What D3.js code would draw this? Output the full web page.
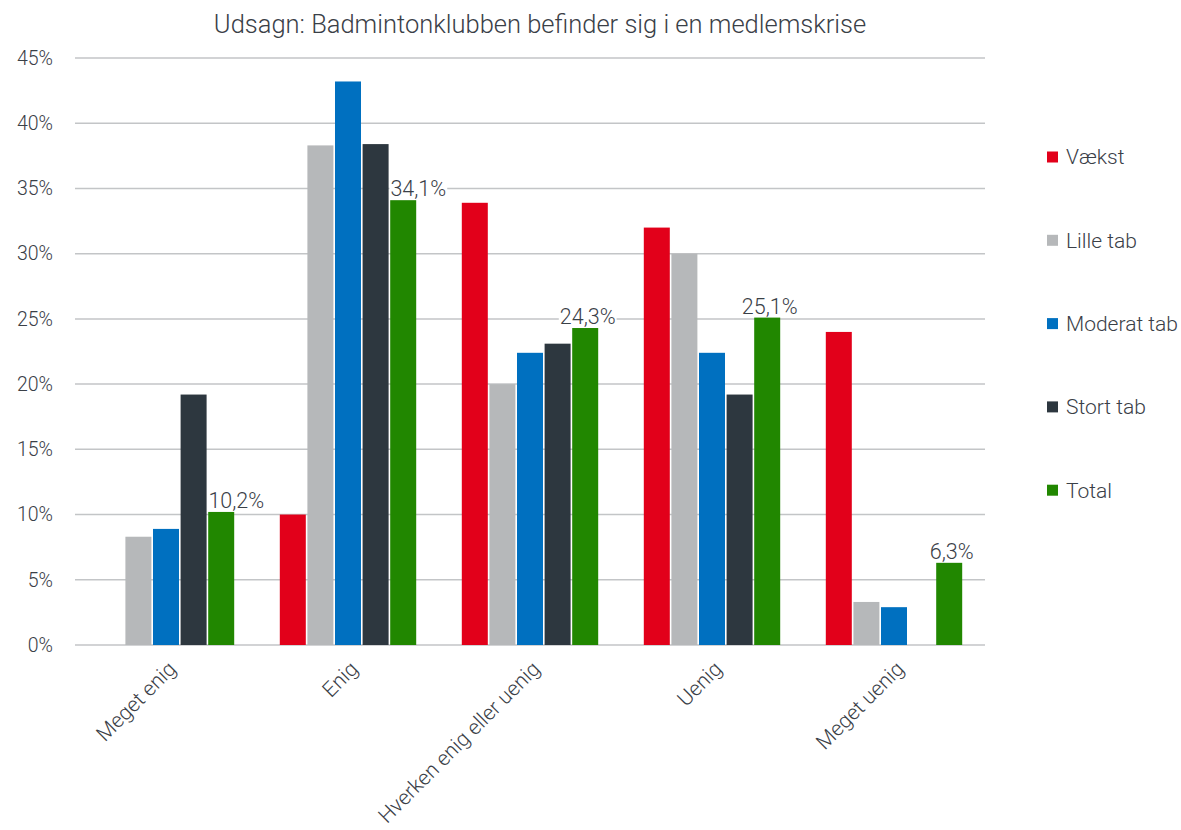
<!DOCTYPE html>
<html>
<head>
<meta charset="utf-8">
<script src="https://cdn.jsdelivr.net/npm/d3@7"></script>
<style>
  body { margin: 0; background: #fff; }
  text { font-family: Roboto, "Noto Sans", sans-serif; font-weight: 300; fill: #3a4047; }
</style>
</head>
<body>
<svg id="chart" width="1181" height="830"></svg>
<script>
"use strict";

// data (percent)
const kategorier = ["Meget enig", "Enig", "Hverken enig eller uenig", "Uenig", "Meget uenig"];
const serier = ["Vækst", "Lille tab", "Moderat tab", "Stort tab", "Total"];
const vaekst = [0, 10.0, 33.9, 32.0, 24.0];
const lilleTab = [8.3, 38.3, 20.0, 30.0, 3.3];
const moderatTab = [8.9, 43.2, 22.4, 22.4, 2.9];
const stortTab = [19.2, 38.4, 23.1, 19.2, 0];
const total = [10.2, 34.1, 24.3, 25.1, 6.3];
const yTicks = [0, 5, 10, 15, 20, 25, 30, 35, 40, 45];

const farver = ["#e2001a", "#b6b8ba", "#0070c0", "#2d373f", "#218700"];
const vaerdier = [vaekst, lilleTab, moderatTab, stortTab, total];

const margin = { top: 58, left: 75, right: 196, bottom: 185 };
const W = 1181, H = 830;
const svg = d3.select("#chart");

const x0 = d3.scaleBand().domain(kategorier).range([margin.left, W - margin.right]);
const x1 = d3.scaleBand().domain(serier).range([22, x0.bandwidth() - 22]);
const y = d3.scaleLinear().domain([0, 45]).range([H - margin.bottom, margin.top]);

// title
svg.append("text")
    .attr("x", 540).attr("y", 33)
    .attr("text-anchor", "middle")
    .style("font-size", "25.5px")
    .text("Udsagn: Badmintonklubben befinder sig i en medlemskrise");

// gridlines
svg.append("g").selectAll("line")
    .data(yTicks).enter().append("line")
    .attr("x1", margin.left).attr("x2", W - margin.right)
    .attr("y1", d => y(d)).attr("y2", d => y(d))
    .attr("stroke", "#c3c5c7").attr("stroke-width", 1.5);

// y labels
svg.append("g").selectAll("text")
    .data(yTicks).enter().append("text")
    .attr("x", 53).attr("y", d => y(d))
    .attr("dy", "0.35em")
    .attr("text-anchor", "end")
    .style("font-size", "19.5px")
    .text(d => d + "%");

// data labels for Total (placed so they do not sit over the taller neighbour bar)
const lblData = kategorier.map((k, i) => ({ kat: k, v: total[i], nabo: stortTab[i] }));
const lbl = svg.append("g").selectAll("g")
    .data(lblData).enter().append("g");
lbl.append("text")
    .attr("text-anchor", "start")
    .attr("y", d => y(d.v) - 4)
    .style("font-size", "21.5px")
    .text(d => d.v.toFixed(1).replace(".", ",") + "%")
    .each(function (d) {
        const w = this.getComputedTextLength();
        const midt = x0(d.kat) + x1("Total") + x1.bandwidth() / 2 + 2.5;
        let venstre = midt - w / 2;
        const naboKant = x0(d.kat) + x1("Stort tab") + x1.bandwidth();
        if (d.nabo > d.v && venstre < naboKant) venstre = naboKant + 1;
        d.x = venstre;
        d.w = w;
        d3.select(this).attr("x", venstre);
    });
lbl.insert("rect", "text")
    .attr("x", d => d.x - 1).attr("y", d => y(d.v) - 23)
    .attr("width", d => d.w + 2).attr("height", 21)
    .attr("fill", "#fff");

// bars
const rows = [];
kategorier.forEach((k, i) => {
    serier.forEach((s, j) => {
        rows.push({ kat: k, serie: s, j: j, v: vaerdier[j][i] });
    });
});

svg.append("g").selectAll("rect")
    .data(rows.filter(d => d.v > 0)).enter().append("rect")
    .attr("x", d => x0(d.kat) + x1(d.serie) + 0.8)
    .attr("width", x1.bandwidth() - 1.6)
    .attr("y", d => y(d.v))
    .attr("height", d => y(0) - y(d.v))
    .attr("fill", d => farver[d.j]);

lbl.raise();

// category labels
svg.append("g").selectAll("text")
    .data(kategorier).enter().append("text")
    .attr("transform", d => "translate(" + (x0(d) + x0.bandwidth() / 2 + 6) + "," + (y(0) + 20) + ") rotate(-45)")
    .attr("text-anchor", "end")
    .attr("dy", "0.35em")
    .style("font-size", "21px")
    .text(d => d);

// legend
const leg = svg.append("g").selectAll("g")
    .data(serier).enter().append("g")
    .attr("transform", (d, i) => "translate(1047," + (157 + i * 83.3) + ")");
leg.append("rect")
    .attr("x", 0).attr("y", -5.5).attr("width", 11).attr("height", 11)
    .attr("fill", (d, i) => farver[i]);
leg.append("text")
    .attr("x", 19).attr("dy", "0.35em")
    .style("font-size", "21px")
    .text(d => d);
</script>
</body>
</html>
